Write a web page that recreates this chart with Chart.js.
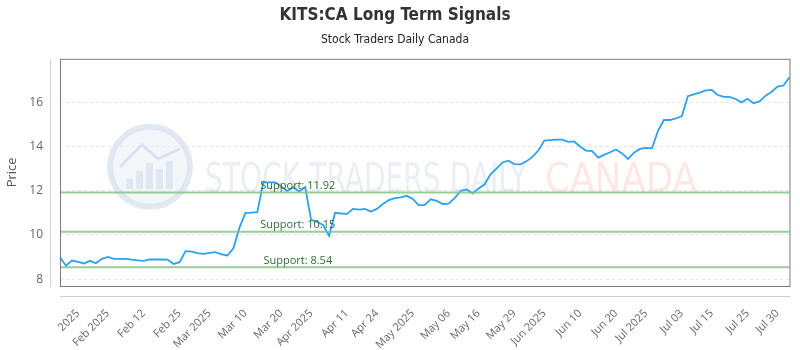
<!DOCTYPE html>
<html>
<head>
<meta charset="utf-8">
<script src="https://cdn.jsdelivr.net/npm/chart.js@4.4.0/dist/chart.umd.min.js"></script>
<style>
    html, body { margin: 0; padding: 0; background: #fff; }
    #chart { display: block; }
</style>
</head>
<body>
<canvas id="chart" width="800" height="350"></canvas>
<script>
// closing prices, one per trading session
const prices = [
    8.99, 8.61, 8.84, 8.78, 8.71, 8.83, 8.72, 8.92, 9.01, 8.92,
    8.92, 8.92, 8.88, 8.85, 8.83, 8.89, 8.89, 8.89, 8.88, 8.69,
    8.77, 9.27, 9.25, 9.18, 9.14, 9.19, 9.22, 9.12, 9.07, 9.40,
    10.32, 11.00, 11.01, 11.03, 12.38, 12.38, 12.38, 12.19, 11.99, 12.15,
    11.97, 12.17, 10.68, 10.59, 10.45, 9.96, 11.00, 10.97, 10.95, 11.18,
    11.15, 11.18, 11.06, 11.18, 11.40, 11.58, 11.67, 11.70, 11.77, 11.63,
    11.34, 11.36, 11.61, 11.54, 11.40, 11.42, 11.67, 11.99, 12.06, 11.88,
    12.10, 12.28, 12.74, 13.00, 13.28, 13.36, 13.20, 13.19, 13.33, 13.53,
    13.82, 14.27, 14.29, 14.31, 14.31, 14.21, 14.23, 13.99, 13.82, 13.79,
    13.50, 13.62, 13.74, 13.87, 13.69, 13.44, 13.72, 13.89, 13.94, 13.92,
    14.70, 15.20, 15.20, 15.27, 15.38, 16.28, 16.36, 16.44, 16.54, 16.56,
    16.33, 16.25, 16.25, 16.15, 16.00, 16.16, 15.96, 16.04, 16.30, 16.47,
    16.71, 16.76, 17.13,
];

const xTickIdx = [3, 8, 14, 20, 25, 31, 37, 42, 48, 53, 59, 65, 70, 76, 81, 87, 93, 98, 104, 109, 115, 120];
const xTickLabels = ['2025', 'Feb 2025', 'Feb 12', 'Feb 25', 'Mar 2025', 'Mar 10', 'Mar 20', 'Apr 2025', 'Apr 11', 'Apr 24', 'May 2025',
    'May 06', 'May 16', 'May 29', 'Jun 2025', 'Jun 10', 'Jun 20', 'Jul 2025', 'Jul 03', 'Jul 15', 'Jul 25', 'Jul 30'];
const yTicks = [8, 10, 12, 14, 16];
const supportLevels = [11.92, 10.15, 8.54];

const labels = prices.map((_, i) => {
    const k = xTickIdx.indexOf(i);
    return k >= 0 ? xTickLabels[k] : '';
});

const tickFont = { family: '"Open Sans", "Noto Sans", sans-serif', size: 11 };
const narrow = '"Liberation Sans Narrow", "DejaVu Sans Condensed", Roboto, sans-serif';

// faint logo + "STOCK TRADERS DAILY CANADA" behind the line
const watermark = {
    id: 'watermark',
    beforeDatasetsDraw(chart) {
        const { ctx, chartArea: ca } = chart;
        ctx.save();
        const cx = ca.left + 90, cy = ca.top + 108, r = 40;
        ctx.beginPath();
        ctx.arc(cx, cy, r, 0, Math.PI * 2);
        ctx.fillStyle = 'rgba(236,241,247,0.6)';
        ctx.fill();
        ctx.lineWidth = 6;
        ctx.strokeStyle = 'rgba(215,224,236,0.7)';
        ctx.stroke();
        ctx.fillStyle = 'rgba(205,218,235,0.55)';
        [[-24, 10], [-14, 18], [-4, 26], [6, 20], [16, 28]].forEach(([dx, h]) => {
            ctx.fillRect(cx + dx, cy + 22 - h, 7, h);
        });
        ctx.beginPath();
        ctx.moveTo(cx - 30, cy);
        ctx.lineTo(cx - 8, cy - 22);
        ctx.lineTo(cx + 8, cy - 8);
        ctx.lineTo(cx + 30, cy - 18);
        ctx.lineWidth = 3;
        ctx.strokeStyle = 'rgba(205,218,235,0.7)';
        ctx.stroke();

        ctx.font = `40px ${narrow}`;
        ctx.textBaseline = 'alphabetic';
        const base = ca.top + 133;
        const drawFit = (text, x0, x1, color) => {
            const w = ctx.measureText(text).width;
            ctx.save();
            ctx.translate(x0, base);
            ctx.scale((x1 - x0) / w, 1);
            ctx.fillStyle = color;
            ctx.fillText(text, 0, 0);
            ctx.restore();
        };
        drawFit('STOCK TRADERS DAILY', ca.left + 145, ca.left + 467, 'rgba(205,215,230,0.42)');
        drawFit('CANADA', ca.left + 485, ca.left + 637, 'rgba(250,200,195,0.42)');
        ctx.restore();
    },
};

const supports = {
    id: 'supports',
    afterDatasetsDraw(chart) {
        const { ctx, chartArea: ca, scales } = chart;
        ctx.save();
        const labelX = ca.left + ca.width * 0.326;
        supportLevels.forEach((v) => {
            const y = scales.y.getPixelForValue(v);
            ctx.beginPath();
            ctx.moveTo(ca.left, y);
            ctx.lineTo(ca.right, y);
            ctx.lineWidth = 2;
            ctx.strokeStyle = 'rgba(125,192,125,0.8)';
            ctx.stroke();
            ctx.font = '11px "Open Sans", "Noto Sans", sans-serif';
            ctx.fillStyle = '#2f6f2f';
            ctx.textAlign = 'center';
            ctx.textBaseline = 'bottom';
            ctx.fillText(`Support: ${v.toFixed(2)}`, labelX, y - 1);
        });
        ctx.restore();
    },
};

const frame = {
    id: 'frame',
    afterDraw(chart) {
        const { ctx, chartArea: ca } = chart;
        ctx.save();
        ctx.lineWidth = 1;
        ctx.strokeStyle = '#7a7a7a';
        ctx.strokeRect(ca.left + 0.5, ca.top + 0.5, ca.width, ca.height);
        ctx.strokeStyle = '#cfcfcf';
        ctx.beginPath();
        ctx.moveTo(ca.left - 9.5, ca.top);
        ctx.lineTo(ca.left - 9.5, ca.bottom + 1);
        ctx.moveTo(ca.left, ca.bottom + 10.5);
        ctx.lineTo(ca.right + 1, ca.bottom + 10.5);
        ctx.stroke();
        ctx.restore();
    },
};

new Chart(document.getElementById('chart'), {
    type: 'line',
    data: {
        labels: labels,
        datasets: [
            {
                label: 'KITS:CA',
                data: prices,
                borderColor: '#2da0f3',
                borderWidth: 1.8,
                pointRadius: 0,
                tension: 0,
                fill: false,
            },
        ],
    },
    options: {
        responsive: false,
        animation: false,
        layout: { padding: { left: 0, right: 10, top: 0, bottom: 0 } },
        scales: {
            x: {
                type: 'category',
                offset: false,
                afterBuildTicks: (scale) => {
                    scale.ticks = xTickIdx.map((i) => ({ value: i }));
                },
                afterFit: (scale) => {
                    scale.height = 64;
                },
                grid: { display: false },
                border: { display: false },
                ticks: {
                    autoSkip: false,
                    minRotation: 45,
                    maxRotation: 45,
                    padding: 13,
                    font: tickFont,
                    color: '#666',
                },
            },
            y: {
                min: 7.69,
                max: 17.97,
                afterBuildTicks: (scale) => {
                    scale.ticks = yTicks.map((v) => ({ value: v }));
                },
                afterFit: (scale) => {
                    scale.width = 60;
                },
                grid: { color: '#e4e4e4', drawTicks: false },
                border: { display: false, dash: [3, 3] },
                ticks: {
                    padding: 17,
                    font: { family: '"Open Sans", "Noto Sans", sans-serif', size: 12 },
                    color: '#666',
                },
                title: {
                    display: true,
                    text: 'Price',
                    color: '#555',
                    font: { family: '"Open Sans", "Noto Sans", sans-serif', size: 13 },
                    padding: { top: 4, bottom: 0 },
                },
            },
        },
        plugins: {
            legend: { display: false },
            tooltip: { enabled: false },
            title: {
                display: true,
                text: 'KITS:CA Long Term Signals',
                color: '#333',
                font: { family: narrow, size: 17, weight: 'bold' },
                padding: { top: 5, bottom: 3 },
            },
            subtitle: {
                display: true,
                text: 'Stock Traders Daily Canada',
                color: '#222',
                font: { family: narrow, size: 12 },
                padding: { top: 4, bottom: 12 },
            },
        },
    },
    plugins: [watermark, supports, frame],
});
</script>
</body>
</html>
